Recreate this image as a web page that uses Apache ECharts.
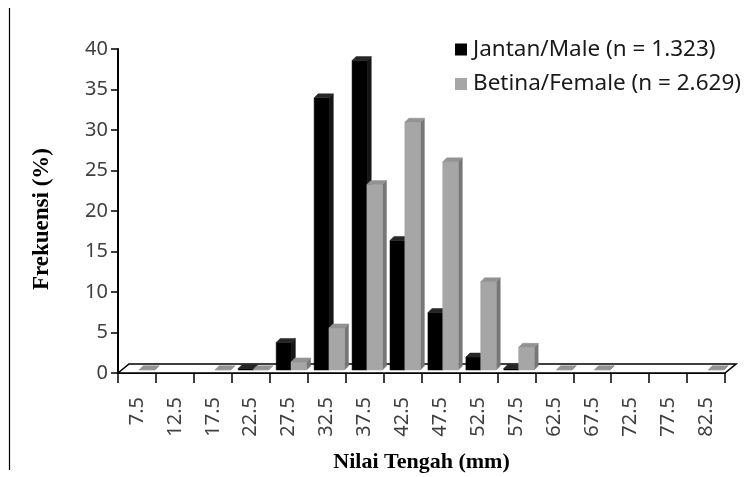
<!DOCTYPE html>
<html>
<head>
<meta charset="utf-8">
<script src="https://cdn.jsdelivr.net/npm/echarts@6/dist/echarts.min.js"></script>
<style>
html,body{margin:0;padding:0;background:#fff;}
#chart{width:752px;height:477px;}
</style>
</head>
<body>
<div id="chart"></div>
<script>
var categories = ['7.5','12.5','17.5','22.5','27.5','32.5','37.5','42.5','47.5','52.5','57.5','62.5','67.5','72.5','77.5','82.5'];
var maleValues   = [0, 0, 0, 0.2, 3.4, 33.6, 38.2, 16.0, 7.1, 1.6, 0.2, 0, 0, 0, 0, 0];
var femaleValues = [0.04, 0, 0.04, 0.04, 1.0, 5.2, 22.9, 30.6, 25.7, 10.9, 2.8, 0.04, 0.04, 0, 0, 0.04];
var yTicks = { min: 0, max: 40, interval: 5 };
var maleName = 'Jantan/Male (n = 1.323)';
var femaleName = 'Betina/Female (n = 2.629)';

var DX = 4, DY = 4, LIFT = 3;

function bar3d(startFrac, widthFrac, front, side, top) {
  return function (params, api) {
    var idx = api.value(0), v = api.value(1);
    if (v <= 0) return null;
    var base = api.coord([idx, 0]);
    var tp = api.coord([idx, v]);
    var bw = api.size([1, 0])[0];
    var x0 = base[0] + startFrac * bw;
    var x1 = x0 + widthFrac * bw;
    var yb = base[1] - LIFT;
    var yt = tp[1] - LIFT;
    return {
      type: 'group',
      children: [
        { type: 'polygon', shape: { points: [[x1, yt], [x1 + DX, yt - DY], [x1 + DX, yb - DY], [x1, yb]] },
          style: { fill: side, stroke: side, lineWidth: 0.5 } },
        { type: 'rect', shape: { x: x0, y: yt, width: x1 - x0, height: yb - yt },
          style: { fill: front, stroke: front, lineWidth: 0.5 } },
        { type: 'polygon', shape: { points: [[x0, yt], [x0 + DX, yt - DY], [x1 + DX, yt - DY], [x1, yt]] },
          style: { fill: top, stroke: top, lineWidth: 0.5 } }
      ]
    };
  };
}

var chart = echarts.init(document.getElementById('chart'), null, { renderer: 'canvas' });
var sansFont = '"Noto Sans", sans-serif';
var serifFont = '"Liberation Serif", "DejaVu Serif", serif';

chart.setOption({
  animation: false,
  backgroundColor: '#ffffff',
  grid: { left: 118, right: 27, top: 49, bottom: 104, containLabel: false, outerBoundsMode: 'none' },
  legend: {
    orient: 'vertical', left: 450, top: 33, itemGap: 11.5, itemWidth: 12, itemHeight: 12,
    icon: 'rect',
    textStyle: { fontFamily: sansFont, fontSize: 22.5, color: '#1a1a1a', padding: [0, 0, 0, 1] },
    data: [maleName, femaleName]
  },
  xAxis: {
    type: 'category', data: categories, boundaryGap: true,
    name: 'Nilai Tengah (mm)', nameLocation: 'middle', nameGap: 78,
    nameTextStyle: { fontFamily: serifFont, fontWeight: 'bold', fontSize: 22, color: '#000' },
    axisLine: { show: true, lineStyle: { color: '#000', width: 2 } },
    axisTick: { show: true, alignWithLabel: false, interval: 0, length: 10, lineStyle: { color: '#000', width: 1.5 } },
    axisLabel: { interval: 0, rotate: 90, margin: 24, fontFamily: sansFont, fontSize: 20, color: '#404040' },
    splitLine: { show: false }
  },
  yAxis: {
    type: 'value', min: yTicks.min, max: yTicks.max, interval: yTicks.interval,
    name: 'Frekuensi (%)', nameLocation: 'middle', nameGap: 64, nameRotate: 90,
    nameTextStyle: { fontFamily: serifFont, fontWeight: 'bold', fontSize: 23, color: '#000', padding: [0, 16, 0, 0] },
    axisLine: { show: true, lineStyle: { color: '#000', width: 2 } },
    axisTick: { show: true, length: 7, lineStyle: { color: '#000', width: 1.5 } },
    axisLabel: { margin: 10, fontFamily: sansFont, fontSize: 20, color: '#404040' },
    splitLine: { show: false }
  },
  graphic: [
    { type: 'line', shape: { x1: 9.5, y1: 8, x2: 9.5, y2: 470 }, style: { stroke: '#000', lineWidth: 1.2 } }
  ],
  series: [
    {
      type: 'custom', name: 'floor', silent: true, z: 1,
      data: [[0, 0]],
      renderItem: function (params, api) {
        var first = api.coord([0, 0]);
        var last = api.coord([categories.length - 1, 0]);
        var bw = api.size([1, 0])[0];
        var xl = first[0] - bw / 2, xr = last[0] + bw / 2, y = first[1];
        return { type: 'polygon', shape: { points: [[xl, y], [xl + 11, y - 9], [xr + 11, y - 9], [xr, y]] },
          style: { fill: '#fff', stroke: '#000', lineWidth: 1.6 } };
      },
      encode: { x: 0, y: 1 },
      legendHoverLink: false
    },
    {
      type: 'custom', name: maleName, z: 2,
      itemStyle: { color: '#000000' },
      data: maleValues.map(function (v, i) { return [i, v]; }),
      encode: { x: 0, y: 1 },
      renderItem: bar3d(-0.33, 0.40, '#000000', '#151515', '#262626')
    },
    {
      type: 'custom', name: femaleName, z: 3,
      itemStyle: { color: '#a6a6a6' },
      data: femaleValues.map(function (v, i) { return [i, v]; }),
      encode: { x: 0, y: 1 },
      renderItem: bar3d(0.06, 0.41, '#a6a6a6', '#777777', '#939393')
    }
  ]
});
</script>
</body>
</html>
